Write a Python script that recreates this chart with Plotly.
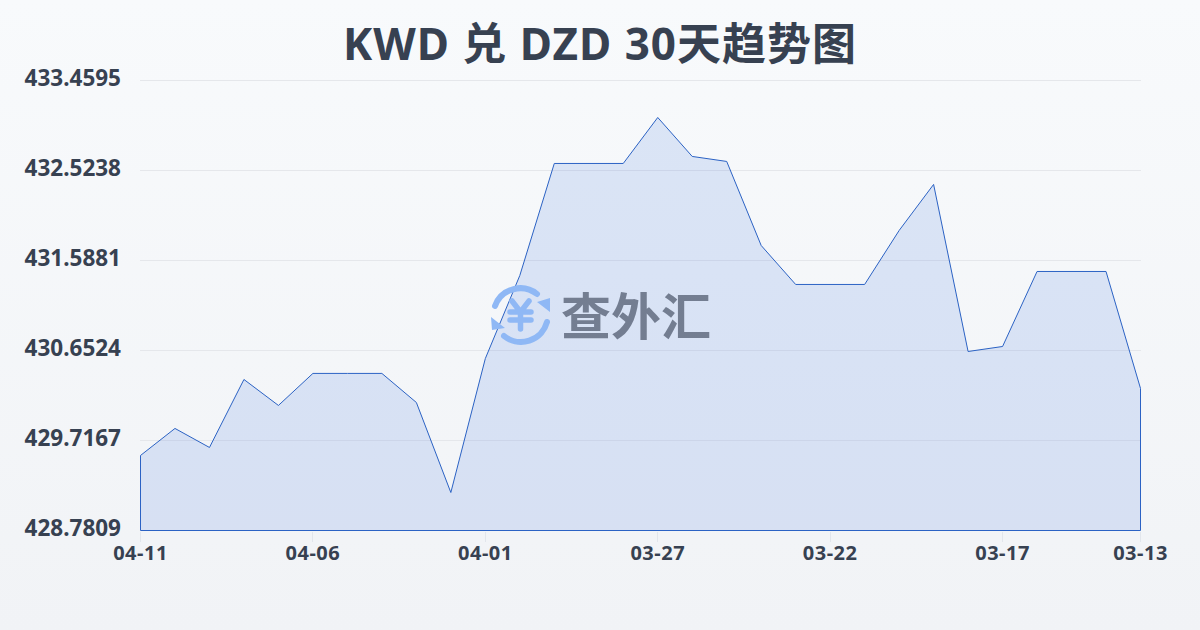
import base64
import plotly.graph_objects as go

TITLE = "KWD 兑 DZD 30天趋势图"
WATERMARK = "查外汇"
dates = ["04-11","04-10","04-09","04-08","04-07","04-06","04-05","04-04","04-03","04-02",
         "04-01","03-31","03-30","03-29","03-28","03-27","03-26","03-25","03-24","03-23",
         "03-22","03-21","03-20","03-19","03-18","03-17","03-16","03-15","03-14","03-13"]
rates = [429.561,429.842,429.644,430.351,430.081,430.414,430.414,430.414,430.112,429.176,
         430.569,431.432,432.597,432.597,432.597,433.075,432.670,432.618,431.744,431.339,
         431.339,431.339,431.900,432.379,430.642,430.694,431.474,431.474,431.474,430.258]
y_ticks = [428.7809,429.7167,430.6524,431.5881,432.5238,433.4595]
y_labels = ["428.7809","429.7167","430.6524","431.5881","432.5238","433.4595"]
x_ticks = ["04-11","04-06","04-01","03-27","03-22","03-17","03-13"]

PW, PH = 1001, 451
half_px_y = (y_ticks[-1] - y_ticks[0]) / 450 / 2
half_px_x = 29 / 1000 / 2

bg_svg = ('<svg xmlns="http://www.w3.org/2000/svg" width="1200" height="630" preserveAspectRatio="none">'
          '<defs><linearGradient id="g" x1="0" y1="0" x2="0" y2="1"><stop offset="0" stop-color="#f8fafc"/>'
          '<stop offset="1" stop-color="#f1f3f6"/></linearGradient></defs>'
          '<rect width="1200" height="630" fill="url(#g)"/></svg>')
logo_svg = ('<svg xmlns="http://www.w3.org/2000/svg" viewBox="0 0 60 60" width="60" height="60">'
            '<g fill="none" stroke="#8fb8f5" stroke-linecap="round">'
            '<path d="M4 21 A27 27 0 0 1 46 9" stroke-width="6"/>'
            '<path d="M56 37 A27 27 0 0 1 13 51" stroke-width="6"/>'
            '<path d="M21 16 L29.5 27 L38 16 M29.5 27 V44 M19 27 H40 M19 35 H40" stroke-width="5.5"/></g>'
            '<path fill="#8fb8f5" d="M59 13 L59 27 L46 17 Z M0 32 L14 43 L1 45 Z"/></svg>')
uri = lambda s: "data:image/svg+xml;base64," + base64.b64encode(s.encode()).decode()

fig = go.Figure(go.Scatter(
    x=dates + [dates[-1], dates[0], dates[0]],
    y=rates + [y_ticks[0], y_ticks[0], rates[0]],
    mode="lines", fill="toself", fillcolor="rgba(59,111,224,0.15)",
    line=dict(color="#2b62c4", width=1), hoverinfo="skip", cliponaxis=False, showlegend=False))

fig.update_layout(
    width=1200, height=630, autosize=False,
    margin=dict(l=140, r=59, t=80, b=99),
    paper_bgcolor="#f5f7fa", plot_bgcolor="rgba(0,0,0,0)",
    title=dict(text=f"<b>{TITLE}</b>", x=0.5, xanchor="center", xref="container", y=0.93, yanchor="middle",
               font=dict(family="Noto Sans, Noto Sans CJK SC", size=44, color="#374151")),
    xaxis=dict(type="category", categoryorder="array", categoryarray=dates,
               range=[-half_px_x, 29 + half_px_x],
               tickmode="array", tickvals=x_ticks, ticktext=[f"<b>{t}</b>" for t in x_ticks],
               ticks="outside", ticklen=10, tickcolor="#e2e6ec", tickwidth=1, showgrid=False, zeroline=False,
               ticklabelstandoff=-6,
               tickfont=dict(family="Noto Sans", size=20, color="#374151"), automargin=False),
    yaxis=dict(range=[y_ticks[0] - half_px_y, y_ticks[-1] + half_px_y], tickmode="array", tickvals=y_ticks,
               ticktext=[f"<b>{t}</b>" for t in y_labels], showgrid=True, gridcolor="#e5e7eb", gridwidth=1,
               zeroline=False, ticks="", ticklabelstandoff=18, ticklabelshift=-2,
               tickfont=dict(family="Noto Sans", size=22.5, color="#374151"), automargin=False),
    shapes=[dict(type="line", xref="paper", yref="y", x0=0, x1=1, y0=y_ticks[-1], y1=y_ticks[-1],
                 line=dict(color="#e5e7eb", width=1), layer="below")],
    images=[
        dict(source=uri(bg_svg), xref="paper", yref="paper", x=-140/PW, y=1+80/PH,
             sizex=1200/PW, sizey=630/PH, sizing="stretch", xanchor="left", yanchor="top", layer="below"),
        dict(source=uri(logo_svg), xref="paper", yref="paper", x=(491-140)/PW, y=(531-285)/PH,
             sizex=60/PW, sizey=60/PH, sizing="stretch", xanchor="left", yanchor="top", layer="above"),
    ],
    annotations=[dict(text=f"<b>{WATERMARK}</b>", xref="paper", yref="paper", x=(636-140)/PW, y=(531-313)/PH,
                      xanchor="center", yanchor="middle", showarrow=False,
                      font=dict(family="Noto Sans CJK SC", size=50, color="rgba(90,100,120,0.8)"))],
)
post = """
document.body.style.margin='0';document.body.style.overflow='hidden';
document.querySelectorAll('.gtitle').forEach(function(t){t.style.letterSpacing='1px';});
document.querySelectorAll('.xtick text').forEach(function(t){t.style.letterSpacing='0.5px';});
"""
fig.write_html("out.html", config=dict(displayModeBar=False), post_script=post)
